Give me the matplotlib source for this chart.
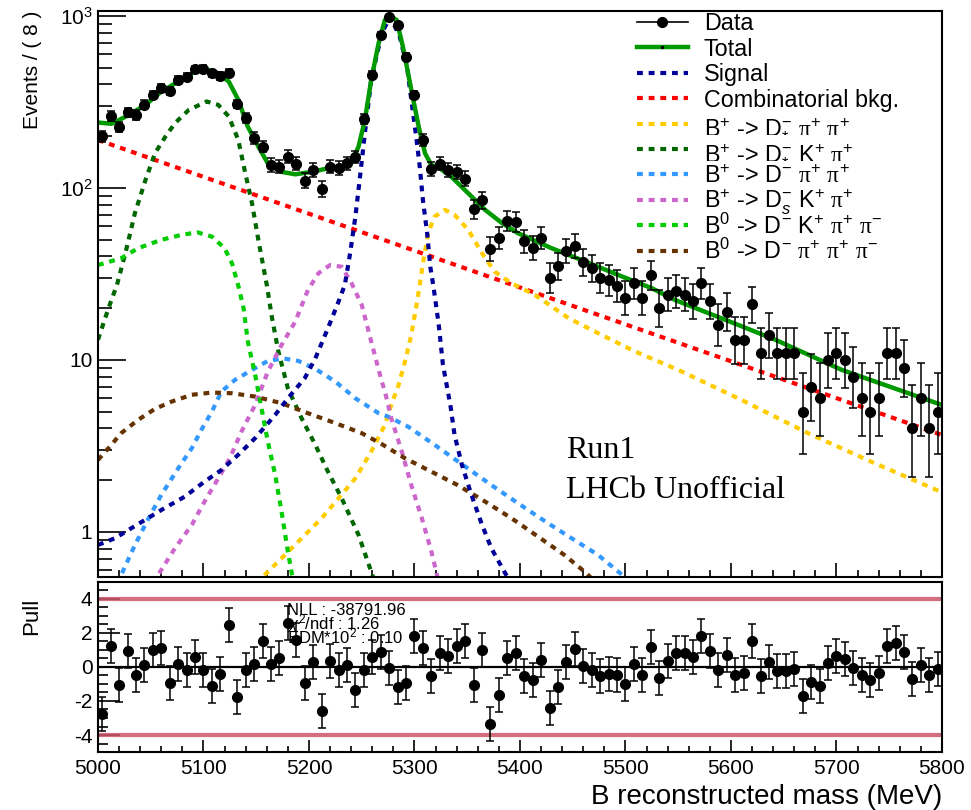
import numpy as np
import matplotlib
matplotlib.use("Agg")
import matplotlib.pyplot as plt
from matplotlib.ticker import FixedLocator, NullFormatter, MultipleLocator

plt.rcParams['font.family'] = ['Liberation Sans', 'DejaVu Sans']
plt.rcParams['mathtext.fontset'] = 'custom'
plt.rcParams['mathtext.rm'] = 'Liberation Sans'
plt.rcParams['mathtext.it'] = 'Liberation Sans:italic'
plt.rcParams['mathtext.sf'] = 'Liberation Serif'

# --- data: 100 bins of 8 MeV ---
masa = np.arange(5004, 5800, 8)
eventos = [200, 262, 227, 275, 265, 304, 347, 380, 368, 424,
           444, 490, 492, 464, 448, 468, 308, 254, 195, 174,
           136, 133, 152, 138, 110, 127, 99, 133, 130, 139,
           151, 251, 454, 775, 985, 887, 580, 347, 190, 129,
           138, 127, 123, 113, 75, 85, 44, 51, 64, 63,
           49, 45, 51, 30, 35, 43, 46, 37, 34, 30,
           29, 27, 23, 28, 23, 31, 20, 24, 25, 24,
           22, 28, 22, 16, 19, 13, 13, 21, 11, 14,
           11, 11, 11, 5, 7, 6, 10, 11, 10, 8,
           6, 5, 6, 11, 11, 9, 4, 6, 4, 5]
pulls = [-2.78, 1.25, -1.07, 0.95, -0.5, 0.1, 1.01, 1.11, -0.93, 0.16,
         -0.2, 0.6, -0.2, -1.13, -0.44, 2.49, -1.77, -0.2, 0.2, 1.55,
         0.2, 0.52, 2.6, 1.59, -0.97, 0.32, -2.58, 0.36, -0.2, 0.1,
         -1.33, -0.2, 0.56, 0.91, -0.04, -1.17, -0.93, 1.85, 1.11, -0.54,
         0.85, 0.66, 1.25, 1.55, -1.03, 1.01, -3.36, -1.63, 0.52, 0.85,
         -0.54, -0.74, 0.42, -2.43, -1.17, 0.32, 1.05, 0.06, -0.2, -0.54,
         -0.4, -0.48, -0.99, 0.16, -0.5, 1.15, -0.64, 0.36, 0.8, 0.8,
         0.56, 1.81, 0.95, -0.2, 0.7, -0.5, -0.34, 1.55, -0.54, 0.32,
         -0.24, -0.24, -0.14, -1.73, -0.89, -1.09, 0.26, 0.62, 0.46, -0.08,
         -0.5, -0.78, -0.34, 1.25, 1.39, 0.89, -0.68, 0.1, -0.5, -0.14]

# --- fit curves ---
total_m = [5000, 5013, 5029, 5045, 5060, 5076, 5092, 5101, 5114, 5124, 5133, 5142, 5152, 5161,
           5174, 5187, 5203, 5218, 5234, 5240, 5247, 5253, 5259, 5266, 5272, 5277, 5283, 5289,
           5297, 5304, 5310, 5316, 5324, 5335, 5351, 5367, 5383, 5398, 5430, 5462, 5493, 5525,
           5547, 5600, 5642, 5705, 5800]
total_v = [240, 236, 265, 304, 363, 415, 474, 492, 465, 415, 325, 227, 174, 139,
           124, 120, 124, 130, 133, 139, 174, 248, 425, 693, 948, 1000, 948, 664,
           372, 227, 159, 136, 130, 116, 93, 74.5, 62.4, 54.6, 44.6, 37.3, 31.2, 26.1,
           22.3, 16.6, 13.1, 8.75, 5.47]

signal_m = [5000, 5016, 5038, 5060, 5082, 5101, 5117, 5133, 5149, 5168, 5180, 5196, 5206, 5218,
            5228, 5234, 5239, 5244, 5248, 5253, 5259, 5269, 5277, 5286, 5293, 5297, 5302, 5305,
            5308, 5312, 5315, 5318, 5323, 5327, 5334, 5338, 5345, 5354, 5364, 5373, 5386, 5392]
signal_v = [0.84, 0.918, 1.11, 1.34, 1.60, 1.96, 2.29, 2.81, 3.51, 4.79, 5.98, 7.83, 10.2, 15.3,
            21.8, 27.3, 41.7, 68.1, 111, 208, 425, 793, 990, 759, 507, 325, 190, 133,
            85.1, 54.6, 34.8, 26.7, 16.0, 9.35, 5.47, 3.66, 2.45, 1.64, 1.10, 0.80, 0.575, 0.50]

comb_m = [5000, 5800]
comb_v = [190, 3.66]

dpipi_m = [5150, 5158, 5174, 5193, 5212, 5228, 5244, 5259, 5272, 5278, 5285, 5291, 5297, 5302,
           5305, 5308, 5313, 5319, 5329, 5338, 5351, 5364, 5376, 5392, 5414, 5446, 5477, 5509,
           5550, 5610, 5673, 5736, 5800]
dpipi_v = [0.5, 0.562, 0.703, 0.918, 1.20, 1.57, 2.05, 2.93, 4.19, 5.47, 7.16, 9.77, 14.0, 20.9,
           27.3, 36.5, 54.6, 68.1, 74.5, 69.7, 57.0, 41.7, 32.6, 27.9, 23.9, 17.5, 14.0, 11.2,
           8.75, 5.85, 3.75, 2.51, 1.70]

dkpi_m = [5000, 5010, 5018, 5026, 5035, 5045, 5054, 5064, 5073, 5086, 5103, 5114, 5124, 5133,
          5139, 5146, 5152, 5160, 5165, 5171, 5180, 5193, 5206, 5218, 5231, 5247, 5259, 5263]
dkpi_v = [13.1, 20.0, 27.3, 41.7, 71.3, 111, 159, 199, 238, 284, 318, 304, 260, 190,
          127, 81.5, 49.9, 27.3, 17.5, 11.2, 6.84, 4.58, 3.21, 2.24, 1.57, 0.96, 0.587, 0.5]

dstpipi_m = [5018, 5022, 5035, 5048, 5060, 5076, 5089, 5098, 5108, 5117, 5130, 5146, 5161, 5176,
             5190, 5206, 5225, 5244, 5266, 5275, 5294, 5319, 5348, 5373, 5398, 5424, 5449, 5474,
             5495, 5503]
dstpipi_v = [0.5, 0.562, 0.839, 1.20, 1.64, 2.34, 3.07, 3.92, 5.01, 6.55, 7.66, 8.75, 9.86, 10.2,
             9.86, 8.87, 7.48, 5.98, 4.90, 4.68, 4.09, 3.21, 2.40, 1.87, 1.47, 1.15, 0.918, 0.735,
             0.575, 0.52]

dskpi_m = [5053, 5057, 5073, 5089, 5101, 5114, 5125, 5136, 5149, 5161, 5174, 5187, 5199, 5209,
           5220, 5231, 5240, 5250, 5259, 5269, 5272, 5278, 5288, 5297, 5307, 5316, 5321, 5323]
dskpi_v = [0.5, 0.562, 0.804, 1.10, 1.50, 2.05, 2.68, 3.83, 5.47, 8.55, 12.2, 16.7, 25.5, 31.9,
           35.6, 34.8, 28.2, 20.9, 12.8, 7.48, 6.55, 4.58, 2.93, 1.87, 1.20, 0.769, 0.575, 0.5]

b0dk_m = [5000, 5022, 5038, 5060, 5079, 5094, 5108, 5120, 5127, 5133, 5138, 5142, 5149, 5155,
          5161, 5168, 5174, 5180, 5184, 5186]
b0dk_v = [35.6, 39.0, 44.6, 49.9, 53.3, 55.2, 52.1, 44.6, 36.5, 27.0, 20.0, 12.8, 8.18, 5.24,
          3.35, 2.14, 1.31, 0.77, 0.56, 0.5]

b0dpi_m = [5000, 5010, 5022, 5038, 5054, 5070, 5089, 5108, 5127, 5149, 5174, 5199, 5225, 5250,
           5269, 5291, 5316, 5341, 5367, 5392, 5417, 5442, 5463, 5470]
b0dpi_v = [2.62, 3.07, 3.75, 4.48, 5.19, 5.73, 6.27, 6.46, 6.40, 6.12, 5.60, 4.90, 4.29, 3.75,
           3.24, 2.68, 2.24, 1.87, 1.50, 1.20, 0.94, 0.735, 0.575, 0.52]

# Poisson (Garwood) errors, Wilson-Hilferty approx.
n = np.array(eventos, dtype=float)
lo = n * (1 - 1 / (9 * n) - 1 / (3 * np.sqrt(n))) ** 3
np1 = n + 1
hi = np1 * (1 - 1 / (9 * np1) + 1 / (3 * np.sqrt(np1))) ** 3
yerr = [n - lo, hi - n]

fig = plt.figure(figsize=(9.71, 8.10), dpi=100)
ax = fig.add_axes([0.1009, 0.2877, 0.8692, 0.6988])
axp = fig.add_axes([0.1009, 0.0716, 0.8692, 0.2099])

punteado = (0, (1.4, 1.4))
lw = 3
ms = 7
ax.plot(comb_m, comb_v, color='#ff0000', lw=lw, ls=punteado)
ax.plot(dpipi_m, dpipi_v, color='#ffcc00', lw=lw, ls=punteado)
ax.plot(dkpi_m, dkpi_v, color='#006600', lw=lw, ls=punteado)
ax.plot(dstpipi_m, dstpipi_v, color='#3399ff', lw=lw, ls=punteado)
ax.plot(dskpi_m, dskpi_v, color='#cc66cc', lw=lw, ls=punteado)
ax.plot(b0dk_m, b0dk_v, color='#00cc00', lw=lw, ls=punteado)
ax.plot(b0dpi_m, b0dpi_v, color='#663300', lw=lw, ls=punteado)
ax.plot(signal_m, signal_v, color='#000099', lw=lw, ls=punteado)
ax.plot(total_m, total_v, color='#009900', lw=3.2)
ax.errorbar(masa, eventos, yerr=yerr, fmt='o', color='black', ms=ms,
            elinewidth=1.1, capsize=2.8, capthick=1.1)

ax.set_yscale('log')
ax.set_xlim(5000, 5800)
ax.set_ylim(0.547, 1069)
ax.set_yticks([1, 10, 100, 1000], labels=['1', '10', r'$10^{2}$', r'$10^{3}$'])
ax.yaxis.set_minor_locator(FixedLocator([k * 10.0 ** d for d in range(-1, 3) for k in range(2, 10)]))
ax.yaxis.set_minor_formatter(NullFormatter())
ax.xaxis.set_major_locator(MultipleLocator(100))
ax.xaxis.set_minor_locator(MultipleLocator(20))
ax.tick_params(axis='x', which='both', direction='in', labelbottom=False)
ax.tick_params(axis='x', which='major', length=10, width=1.2)
ax.tick_params(axis='x', which='minor', length=5, width=1.2)
ax.tick_params(axis='y', which='major', direction='in', length=20, width=1.2, labelsize=15, pad=4)
ax.tick_params(axis='y', which='minor', direction='in', length=10, width=1.2)
for s in ax.spines.values():
    s.set_linewidth(1.5)
ax.set_ylabel('Events / ( 8 )', fontsize=15, loc='top')
ax.yaxis.set_label_coords(-0.066, 1.0)

# leyenda (estilo ROOT, filas equiespaciadas)
pi = r'\mathsf{\pi}'
ley_nombres = [
    'Data', 'Total', 'Signal', 'Combinatorial bkg.',
    r'B$^{+}$ -> D$^{-}_{*}$ $%s^{+}$ $%s^{+}$' % (pi, pi),
    r'B$^{+}$ -> D$^{-}_{*}$ K$^{+}$ $%s^{+}$' % pi,
    r'B$^{+}$ -> D$^{-}$ $%s^{+}$ $%s^{+}$' % (pi, pi),
    r'B$^{+}$ -> D$^{-}_{s}$ K$^{+}$ $%s^{+}$' % pi,
    r'B$^{0}$ -> D$^{-}$ K$^{+}$ $%s^{+}$ $%s^{-}$' % (pi, pi),
    r'B$^{0}$ -> D$^{-}$ $%s^{+}$ $%s^{+}$ $%s^{-}$' % (pi, pi, pi),
]
ley_colores = ['black', '#009900', '#000099', '#ff0000', '#ffcc00', '#006600',
               '#3399ff', '#cc66cc', '#00cc00', '#663300']
x0, x1, xt = 0.6386, 0.699, 0.718
for i, (nombre, col) in enumerate(zip(ley_nombres, ley_colores)):
    yc = 0.9806 - 0.04488 * i
    if i == 0:
        ax.plot([x0, x1], [yc, yc], color=col, lw=1.2, transform=ax.transAxes, clip_on=False)
        ax.plot([(x0 + x1) / 2], [yc], 'o', color=col, ms=ms, transform=ax.transAxes, clip_on=False)
    elif i == 1:
        ax.plot([x0, x1], [yc, yc], color=col, lw=3.2, transform=ax.transAxes, clip_on=False)
        ax.plot([(x0 + x1) / 2], [yc], 'o', color='black', ms=1.5, transform=ax.transAxes,
                clip_on=False)
    else:
        ax.plot([x0, x1], [yc, yc], color=col, lw=lw, ls=punteado, transform=ax.transAxes,
                clip_on=False)
    ax.text(xt, yc - 0.0148, nombre, transform=ax.transAxes, fontsize=16.8, va='baseline')

ax.text(0.555, 0.2103, 'Run1', transform=ax.transAxes, fontsize=23, family='Liberation Serif')
ax.text(0.555, 0.1396, 'LHCb Unofficial', transform=ax.transAxes, fontsize=23,
        family='Liberation Serif')

# --- panel de pulls ---
axp.axhline(4, color='#cc5566', lw=3, alpha=0.85)
axp.axhline(-4, color='#cc5566', lw=3, alpha=0.85)
axp.axhline(0, color='black', lw=1.6)
axp.errorbar(masa, pulls, yerr=1, fmt='o', color='black', ms=ms,
             elinewidth=1.1, capsize=2.8, capthick=1.1)
axp.set_xlim(5000, 5800)
axp.set_ylim(-5, 5)
axp.set_yticks([-4, -2, 0, 2, 4], labels=['-4', '-2', '0', '2', '4'])
axp.yaxis.set_minor_locator(MultipleLocator(0.5))
axp.xaxis.set_major_locator(MultipleLocator(100))
axp.xaxis.set_minor_locator(MultipleLocator(20))
tick_font = ['Liberation Sans Narrow', 'Liberation Sans']
axp.tick_params(axis='both', which='both', direction='in')
axp.tick_params(axis='x', which='major', length=9, width=1.2, labelsize=15, pad=5)
axp.tick_params(axis='x', which='minor', length=4.5, width=1.2)
axp.tick_params(axis='y', which='major', length=16, width=1.2, labelsize=15, pad=4)
axp.tick_params(axis='y', which='minor', length=7.5, width=1.2)
for lab in axp.get_xticklabels() + axp.get_yticklabels():
    lab.set_family(tick_font)
for s in axp.spines.values():
    s.set_linewidth(1.5)
axp.set_ylabel('Pull', fontsize=16, loc='top')
axp.yaxis.set_label_coords(-0.066, 0.91)
axp.set_xlabel('B reconstructed mass (MeV)', fontsize=20, loc='right')

axp.text(0.224, 0.806, 'NLL : -38791.96', transform=axp.transAxes, fontsize=12)
axp.text(0.224, 0.7235, r'$\chi^{2}$/ndf : 1.26', transform=axp.transAxes, fontsize=12)
axp.text(0.224, 0.641, r'EDM*10$^{2}$ : 0.10', transform=axp.transAxes, fontsize=12)

fig.savefig('out.png', dpi=100)
